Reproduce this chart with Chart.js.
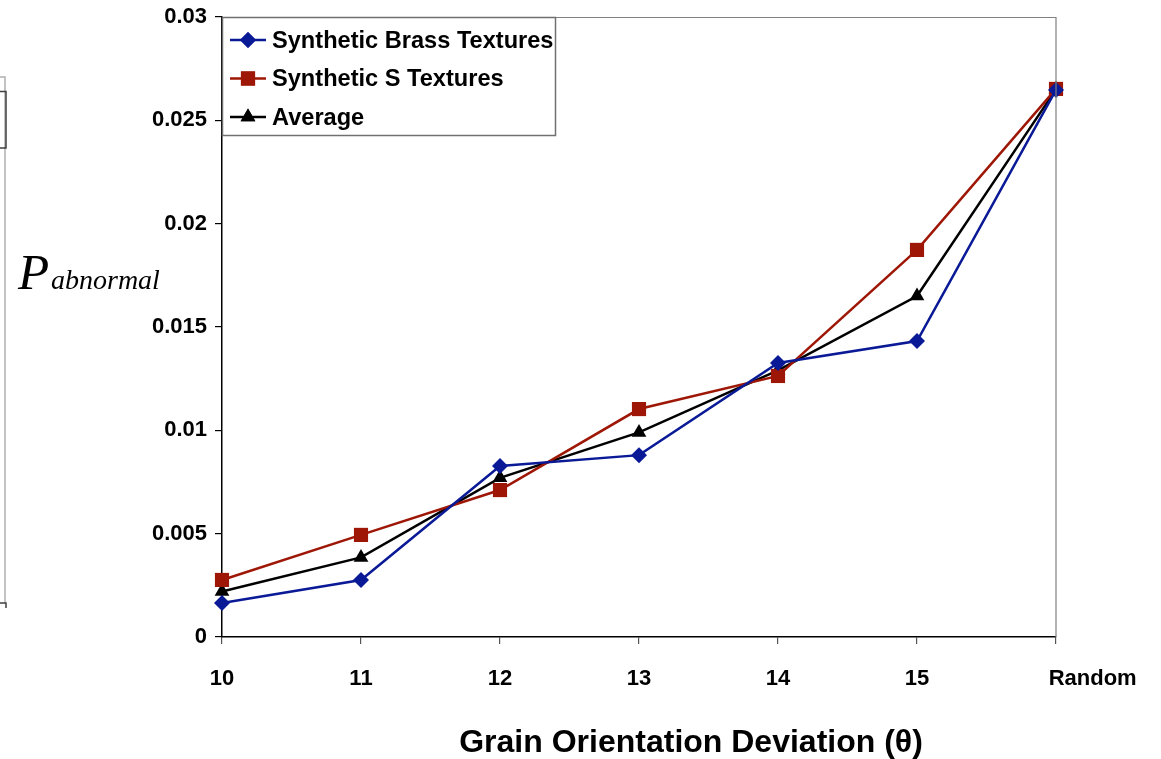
<!DOCTYPE html>
<html><head><meta charset="utf-8">
<script src="https://cdn.jsdelivr.net/npm/chart.js@4/dist/chart.umd.min.js"></script>
<style>html,body{margin:0;padding:0;background:#fff;}#wrap{width:1161px;height:759px;position:relative;}</style>
</head><body><div id="wrap"><canvas id="c" width="1161" height="759"></canvas></div>
<script>
const categories = ['10','11','12','13','14','15','Random'];
const brass = [0.00165, 0.00276, 0.00827, 0.0088, 0.01326, 0.01432, 0.02647];
const sTex = [0.00276, 0.00494, 0.00711, 0.01103, 0.01263, 0.01873, 0.02652];
const average = [0.0022, 0.00385, 0.0077, 0.0099, 0.0129, 0.0165, 0.0265];
const yTicks = [0, 0.005, 0.01, 0.015, 0.02, 0.025, 0.03];
const seriesNames = ['Synthetic Brass Textures', 'Synthetic S Textures', 'Average'];
const xTitle = 'Grain Orientation Deviation (\u03B8)';

const BLUE = '#0a1a96', RED = '#9e1706', BLACK = '#000000';

const decor = {
  id: 'decor',
  afterDraw(chart) {
    const ctx = chart.ctx, a = chart.chartArea;
    ctx.save();
    // top & right frame
    ctx.strokeStyle = '#808080'; ctx.lineWidth = 1.2;
    ctx.beginPath(); ctx.moveTo(a.left, a.top + 0.5); ctx.lineTo(a.right, a.top + 0.5); ctx.lineTo(a.right, a.bottom); ctx.stroke();
    // legend
    const lx = a.left, ly = a.top, lw = 333, lh = 118;
    ctx.fillStyle = '#fff'; ctx.fillRect(lx, ly, lw, lh);
    ctx.strokeStyle = '#707070'; ctx.lineWidth = 1.5;
    ctx.strokeRect(lx + 0.5, ly + 0.5, lw, lh);
    const cols = [BLUE, RED, BLACK], styles = ['rectRot', 'rect', 'triangle'], rads = [8, 10, 8.5];
    ctx.font = 'bold 23.6px "Liberation Sans", Arial, sans-serif';
    ctx.textBaseline = 'middle'; ctx.textAlign = 'left';
    seriesNames.forEach((n, i) => {
      const cy = ly + 23 + i * 38.5;
      ctx.strokeStyle = cols[i]; ctx.lineWidth = 2.5;
      ctx.beginPath(); ctx.moveTo(lx + 8, cy); ctx.lineTo(lx + 44, cy); ctx.stroke();
      ctx.fillStyle = cols[i];
      Chart.helpers.drawPoint(ctx, {pointStyle: styles[i], radius: rads[i], borderWidth: 0}, lx + 26, cy);
      ctx.fill();
      ctx.fillStyle = '#000';
      ctx.fillText(n, lx + 50, cy + 1);
    });
    // y title
    ctx.fillStyle = '#000'; ctx.textBaseline = 'alphabetic';
    ctx.font = 'italic 51px "Liberation Serif", "Times New Roman", serif';
    ctx.fillText('P', 18, 289);
    ctx.font = 'italic 28px "Liberation Serif", "Times New Roman", serif';
    ctx.fillText('abnormal', 51, 289);
    // x title
    ctx.font = 'bold 32px "Liberation Sans", Arial, sans-serif';
    ctx.textAlign = 'center'; ctx.textBaseline = 'middle';
    ctx.fillText(xTitle, 691, 743);
    // left edge artefacts
    ctx.strokeStyle = '#b0b0b0'; ctx.lineWidth = 1.5;
    ctx.beginPath(); ctx.moveTo(0, 77); ctx.lineTo(5, 77); ctx.lineTo(5, 603); ctx.stroke();
    ctx.strokeStyle = '#404040'; ctx.lineWidth = 1.5;
    ctx.beginPath(); ctx.moveTo(0, 91.5); ctx.lineTo(6, 91.5); ctx.lineTo(6, 148); ctx.lineTo(0, 148); ctx.stroke();
    ctx.beginPath(); ctx.moveTo(0, 603); ctx.lineTo(6, 603); ctx.lineTo(6, 608); ctx.stroke();
    ctx.restore();
  }
};

const mk = (label, data, color, style, r) => ({
  label, data, borderColor: color, backgroundColor: color, borderWidth: 2.5,
  pointStyle: style, pointRadius: r, pointHoverRadius: r, pointBorderWidth: 0,
  tension: 0, clip: false
});

new Chart(document.getElementById('c'), {
  type: 'line',
  data: {
    labels: categories,
    datasets: [
      mk(seriesNames[0], brass, BLUE, 'rectRot', 8),
      mk(seriesNames[1], sTex, RED, 'rect', 10),
      mk(seriesNames[2], average, BLACK, 'triangle', 8.5)
    ]
  },
  options: {
    responsive: false, animation: false,
    layout: { padding: { left: 0, top: 17, right: 105, bottom: 0 } },
    plugins: { legend: { display: false }, tooltip: { enabled: false } },
    scales: {
      x: {
        offset: false,
        afterFit(s) { s.height = 122; s.paddingLeft = 0; s.paddingRight = 0; },
        grid: { display: true, drawOnChartArea: false, tickLength: 7, color: '#555', lineWidth: 1.2 },
        border: { color: '#000', width: 1.5 },
        ticks: { color: '#000', padding: 22, maxRotation: 0, autoSkip: false,
          callback(v, i) { const l = categories[i]; return i === categories.length - 1 ? ' '.repeat(12) + l : l; },
          font: { family: '"Liberation Sans", Arial, sans-serif', size: 22, weight: 'bold' } }
      },
      y: {
        min: 0, max: 0.03,
        afterFit(s) { s.width = 222; s.paddingTop = 0; s.paddingBottom = 0; },
        afterBuildTicks(s) { s.ticks = yTicks.map(v => ({ value: v })); },
        grid: { display: true, drawOnChartArea: false, tickLength: 7, color: '#000', lineWidth: 1.2 },
        border: { color: '#000', width: 1.5 },
        ticks: { color: '#000', padding: 8,
          callback: v => String(v),
          font: { family: '"Liberation Sans", Arial, sans-serif', size: 22, weight: 'bold' } }
      }
    }
  },
  plugins: [decor]
});
</script></body></html>
